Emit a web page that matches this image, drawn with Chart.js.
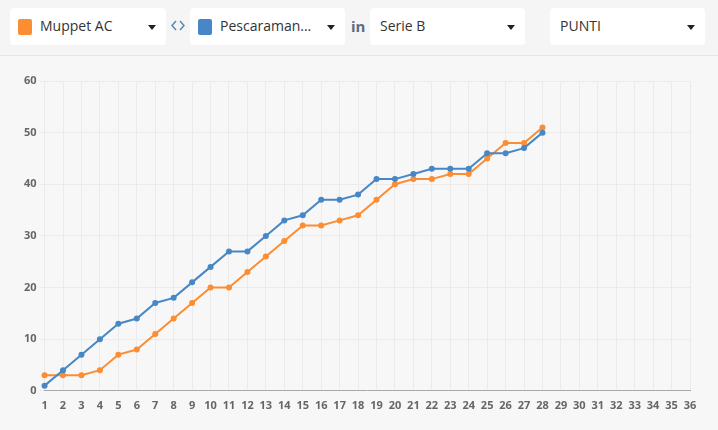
<!DOCTYPE html>
<html><head><meta charset="utf-8">
<script src="https://cdn.jsdelivr.net/npm/chart.js@4"></script>
<style>
html,body{margin:0;padding:0;width:718px;height:430px;overflow:hidden;background:#f7f7f7;font-family:"Open Sans",sans-serif;}
#bar{position:absolute;left:0;top:0;width:718px;height:55px;background:#f5f5f5;border-bottom:1px solid #e6e6e6;}
.dd{position:absolute;top:8px;height:37px;background:#fff;border-radius:4px;}
.dd .sq{position:absolute;left:8px;top:11px;width:14px;height:16px;border-radius:2px;}
.dd .t{position:absolute;left:30px;top:8px;font-size:14px;color:#333;line-height:20px;}
.dd .c{position:absolute;right:10px;top:17px;width:0;height:0;border-left:4px solid transparent;border-right:4px solid transparent;border-top:5px solid #222;}
#sep{position:absolute;left:171px;top:20px;}
#in{position:absolute;left:351px;top:16px;font-size:15px;color:#5d6b7c;font-weight:bold;line-height:20px;}
#wrap{position:absolute;left:0;top:56px;width:718px;height:374px;}
</style></head>
<body>
<div id="bar">
  <div class="dd" style="left:10px;width:156px"><div class="sq" style="background:#fd8d32"></div><div class="t">Muppet AC</div><div class="c"></div></div>
  <svg id="sep" width="14" height="11" viewBox="0 0 14 11"><polyline points="5,1 1,5.5 5,10" fill="none" stroke="#5b86b8" stroke-width="1.5"/><polyline points="9,1 13,5.5 9,10" fill="none" stroke="#5b86b8" stroke-width="1.5"/></svg>
  <div class="dd" style="left:190px;width:155px"><div class="sq" style="background:#4887c6"></div><div class="t">Pescaraman...</div><div class="c"></div></div>
  <div id="in">in</div>
  <div class="dd" style="left:370px;width:155px"><div class="t" style="left:10px">Serie B</div><div class="c"></div></div>
  <div class="dd" style="left:550px;width:155px"><div class="t" style="left:10px">PUNTI</div><div class="c"></div></div>
</div>
<div id="wrap"><canvas id="c"></canvas></div>
<script>
const rounds = ["1","2","3","4","5","6","7","8","9","10","11","12","13","14","15","16","17","18","19","20","21","22","23","24","25","26","27","28","29","30","31","32","33","34","35","36"];
const muppetPoints = [3,3,3,4,7,8,11,14,17,20,20,23,26,29,32,32,33,34,37,40,41,41,42,42,45,48,48,51];
const pescaraPoints = [1,4,7,10,13,14,17,18,21,24,27,27,30,33,34,37,37,38,41,41,42,43,43,43,46,46,47,50];
const yTicks = [0,10,20,30,40,50,60];

const orange = '#fd8d32', blue = '#4887c6';
new Chart(document.getElementById('c'), {
  type: 'line',
  data: {
    labels: rounds,
    datasets: [
      {label:'Pescaraman...', data: pescaraPoints, borderColor: blue, backgroundColor: blue, borderWidth: 2, pointRadius: 3, pointBorderWidth: 0, tension: 0},
      {label:'Muppet AC', data: muppetPoints, borderColor: orange, backgroundColor: orange, borderWidth: 2, pointRadius: 3, pointBorderWidth: 0, tension: 0}
    ]
  },
  options: {
    responsive: true, maintainAspectRatio: false, animation: false,
    layout: {padding: {left: 21, right: 28, top: 25, bottom: 10}},
    plugins: {legend: {display: false}, tooltip: {enabled: false}},
    scales: {
      x: {
        offset: false,
        grid: {color: '#ebebeb', drawTicks: false},
        border: {color: '#aaaaaa'},
        ticks: {color: '#666', font: {family: 'Open Sans', size: 11, weight: 'bold'}, padding: 8, maxRotation: 0, autoSkip: false}
      },
      y: {
        min: 0, max: 60,
        afterBuildTicks: (s) => { s.ticks = yTicks.map(v => ({value: v})); },
        grid: {color: '#ebebeb', tickLength: 5},
        border: {display: false},
        ticks: {color: '#666', font: {family: 'Open Sans', size: 11, weight: 'bold'}, padding: 3}
      }
    }
  }
});
</script>
</body></html>
